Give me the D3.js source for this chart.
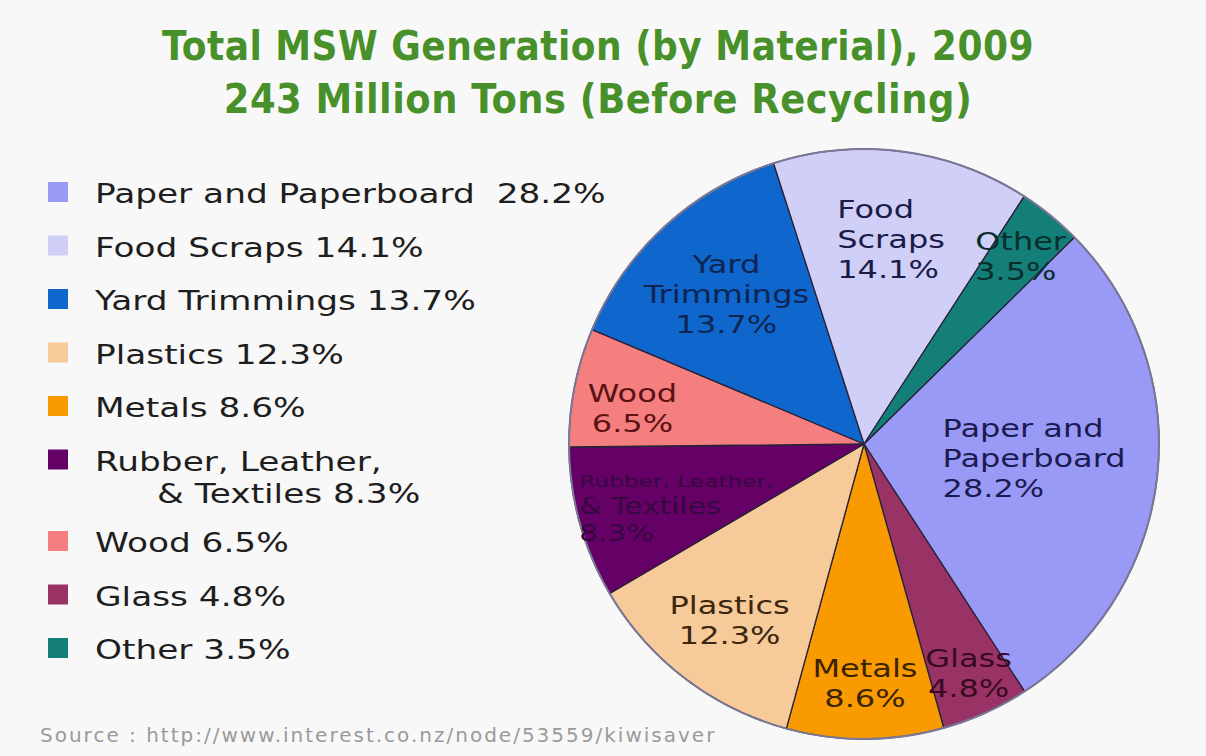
<!DOCTYPE html>
<html><head><meta charset="utf-8">
<script src="https://cdn.jsdelivr.net/npm/d3@7"></script>
<style>
body{margin:0;background:#f9f8f8;}
svg{display:block;}
text{white-space:pre;}
</style>
</head><body>
<svg id="chart" width="1206" height="756"></svg>
<script>
// ---------- data ----------
const categories = ["Paper and Paperboard","Food Scraps","Yard Trimmings","Plastics","Metals","Rubber, Leather, & Textiles","Wood","Glass","Other"];
const values = [28.2,14.1,13.7,12.3,8.6,8.3,6.5,4.8,3.5];
const legendLines = [["Paper and Paperboard  28.2%"],["Food Scraps 14.1%"],["Yard Trimmings 13.7%"],["Plastics 12.3%"],["Metals 8.6%"],["Rubber, Leather,","& Textiles 8.3%"],["Wood 6.5%"],["Glass 4.8%"],["Other 3.5%"]];
const sliceLabelLines = [["Paper and","Paperboard","28.2%"],["Food","Scraps","14.1%"],["Yard","Trimmings","13.7%"],["Plastics","12.3%"],["Metals","8.6%"],["Rubber, Leather,","& Textiles","8.3%"],["Wood","6.5%"],["Glass","4.8%"],["Other","3.5%"]];
const pieOrder = ["Paper and Paperboard","Glass","Metals","Plastics","Rubber, Leather, & Textiles","Wood","Yard Trimmings","Food Scraps","Other"];
const titleLines = ["Total MSW Generation (by Material), 2009","243 Million Tons (Before Recycling)"];
const sourceText = "Source : http://www.interest.co.nz/node/53559/kiwisaver";

// ---------- styles / layout ----------
const colors = ["#9999f6","#cfcff7","#0f66cc","#f7ca99","#f89a00","#650066","#f57f7f","#993366","#137f78"];
const labelColors = ["#1b1b52","#1b1b48","#0d2550","#3b2710","#3b2300","#36083f","#5a1212","#3a0a22","#0a2e2c"];
const labelRadius = [0.58,0.70,0.69,0.75,0.81,0.66,0.80,0.86,0.84];
const labelDy =     [-5,0,0,0,0,9,10,-2,4];
const labelAnchor = ["start","start","middle","middle","middle","start","middle","middle","start"];
const cx = 864, cy = 444, R = 295;
const startDeg = 45.5;
const FONT = "'DejaVu Sans', Verdana, sans-serif";

function stretch(sel, factor){
  const w = sel.node().getComputedTextLength()*factor;
  sel.attr("textLength", w).attr("lengthAdjust","spacingAndGlyphs");
  return w;
}

const svg = d3.select("#chart");
svg.append("rect").attr("width",1206).attr("height",756).attr("fill","#f9f8f8");

// title
const title = svg.append("g");
titleLines.forEach((t,i)=>{
  title.append("text")
    .attr("x",598).attr("y",60 + i*53)
    .attr("text-anchor","middle")
    .attr("font-family","'DejaVu Sans Condensed','DejaVu Sans',sans-serif")
    .attr("font-weight","bold")
    .attr("font-size",i===0?40:41)
    .attr("letter-spacing",0.5)
    .attr("fill","#48902a")
    .text(t);
});

// data table
const table = categories.map((c,i)=>({name:c,value:values[i],color:colors[i],lines:sliceLabelLines[i],
  lc:labelColors[i],lr:labelRadius[i],dy:labelDy[i],anchor:labelAnchor[i],legend:legendLines[i]}));
const pieData = pieOrder.map(n=>table.find(d=>d.name===n));

const pie = d3.pie().sort(null).value(d=>d.value)
  .startAngle(startDeg*Math.PI/180).endAngle(startDeg*Math.PI/180 + 2*Math.PI);
const arc = d3.arc().innerRadius(0).outerRadius(R);
const arcs = pie(pieData);

const g = svg.append("g").attr("transform",`translate(${cx},${cy})`);
g.selectAll("path.slice").data(arcs).enter().append("path")
  .attr("class","slice")
  .attr("d",arc)
  .attr("fill",d=>d.data.color)
  .attr("stroke","#2a2238")
  .attr("stroke-width",1.3)
  .attr("stroke-linejoin","round");
g.append("circle").attr("r",R).attr("fill","none").attr("stroke","#7a7896").attr("stroke-width",2);

// slice labels
arcs.forEach(a=>{
  const d = a.data;
  const mid = (a.startAngle+a.endAngle)/2;
  const px = Math.sin(mid)*d.lr*R, py = -Math.cos(mid)*d.lr*R + d.dy;
  const n = d.lines.length;
  const rub = d.name.startsWith("Rubber");
  const lineH = rub?27:30;
  const lg = g.append("g");
  const items = d.lines.map((ln,i)=>{
    const small = rub && i===0;
    const t = lg.append("text")
      .attr("y", py + (i-(n-1)/2)*lineH + 9)
      .attr("font-family",FONT)
      .attr("font-size", small?15:(rub?23:25))
      .attr("fill",d.lc)
      .text(ln);
    const w = stretch(t, small?1.55:1.28);
    return {t,w};
  });
  if(d.anchor==="middle"){
    items.forEach(o=>o.t.attr("x",px).attr("text-anchor","middle"));
  } else {
    const w = d3.max(items,o=>o.w);
    items.forEach(o=>o.t.attr("x",px - w/2).attr("text-anchor","start"));
  }
});

// legend
const leg = svg.append("g");
let yy = 192;
table.forEach(d=>{
  leg.append("rect").attr("x",48).attr("y",yy-10).attr("width",20).attr("height",20).attr("fill",d.color);
  d.legend.forEach((ln,j)=>{
    const t = leg.append("text")
      .attr("x", j===0?95:157).attr("y", yy+11 + j*32)
      .attr("font-family",FONT).attr("font-size",26)
      .attr("fill","#1e1e1e")
      .text(ln);
    stretch(t, 1.32);
  });
  yy += 53.5 + (d.legend.length-1)*28;
});

// source
svg.append("text").attr("x",40).attr("y",742)
  .attr("font-family",FONT).attr("font-size",20).attr("letter-spacing",2)
  .attr("fill","#9a9a9a").text(sourceText);
</script>
</body></html>
